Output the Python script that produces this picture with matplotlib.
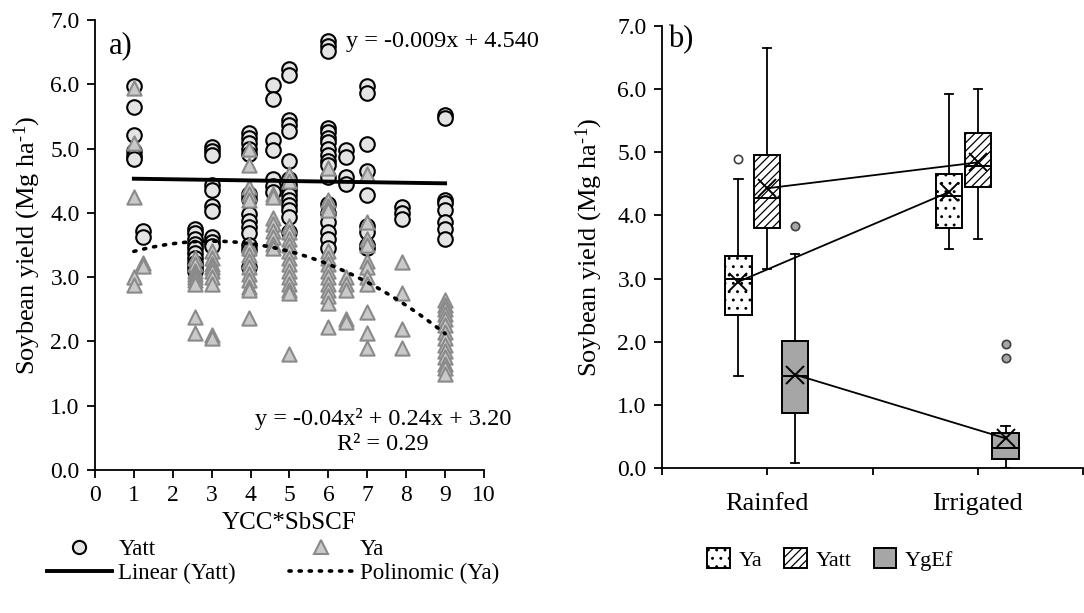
import numpy as np
import matplotlib
matplotlib.use("Agg")
import matplotlib.pyplot as plt
from matplotlib.patches import Patch
from matplotlib.lines import Line2D

plt.rcParams['font.family'] = ['Liberation Serif', 'DejaVu Serif']
plt.rcParams['mathtext.fontset'] = 'custom'
plt.rcParams['mathtext.rm'] = 'Liberation Serif'
plt.rcParams['mathtext.it'] = 'Liberation Serif:italic'
plt.rcParams['hatch.linewidth'] = 0.9

# --- a) scatter data: x columns (YCC*SbSCF) and yields read per column
col_x = [1.0, 1.24, 2.58, 3.0, 3.96, 4.58, 5.0, 6.0, 6.45, 7.0, 7.9, 9.0]

yatt_cols = [
    [5.97, 5.64, 5.21, 4.96, 4.89, 4.84],
    [3.72, 3.62],
    [3.75, 3.68, 3.6, 3.52, 3.45, 3.38, 3.3, 3.22, 3.15, 3.1],
    [5.03, 4.96, 4.9, 4.43, 4.36, 4.1, 4.03, 3.62, 3.55, 3.48],
    [5.24, 5.16, 5.08, 5.0, 4.92, 4.3, 4.22, 3.98, 3.88, 3.78, 3.68, 3.5, 3.42, 3.15],
    [5.99, 5.77, 5.14, 4.97, 4.52, 4.42, 4.32],
    [6.24, 6.14, 5.45, 5.37, 5.28, 4.8, 4.52, 4.44, 4.36, 4.28, 4.2, 4.12, 4.05, 3.93, 3.7],
    [6.67, 6.6, 6.52, 5.32, 5.25, 5.17, 5.1, 5.0, 4.9, 4.8, 4.75, 4.55, 4.14, 4.0,
     3.85, 3.7, 3.6, 3.45],
    [4.97, 4.87, 4.55, 4.45],
    [5.97, 5.87, 5.07, 4.65, 4.27, 3.8, 3.7, 3.5, 3.45],
    [4.09, 4.0, 3.9],
    [5.52, 5.47, 4.2, 4.15, 4.05, 3.85, 3.75, 3.6],
]

ya_cols = [
    [5.94, 5.09, 4.24, 3.0, 2.88],
    [3.22, 3.17],
    [3.3, 3.2, 3.1, 3.05, 3.0, 2.95, 2.9, 2.38, 2.13],
    [3.4, 3.3, 3.2, 3.15, 3.1, 3.0, 2.9, 2.1, 2.05],
    [5.0, 4.75, 4.4, 4.3, 4.2, 3.5, 3.45, 3.35, 3.25, 3.15, 3.05, 2.95, 2.85, 2.8, 2.37],
    [4.3, 4.25, 3.92, 3.82, 3.72, 3.62, 3.52, 3.45],
    [4.6, 4.5, 3.8, 3.7, 3.6, 3.5, 3.4, 3.3, 3.2, 3.1, 3.0, 2.9, 2.8, 2.75, 1.8],
    [4.7, 4.2, 4.1, 4.05, 3.4, 3.3, 3.2, 3.1, 3.0, 2.9, 2.8, 2.7, 2.6, 2.22],
    [3.0, 2.9, 2.8, 2.35, 2.3],
    [4.6, 3.85, 3.6, 3.5, 3.25, 3.15, 3.0, 2.9, 2.45, 2.13, 1.9],
    [3.24, 2.75, 2.2, 1.9],
    [2.65, 2.57, 2.5, 2.42, 2.35, 2.25, 2.15, 2.05, 1.95, 1.85, 1.75, 1.65, 1.58, 1.5],
]

# trend lines given on the chart
lin_coef = [-0.009, 4.540]
poly_coef = [-0.04, 0.24, 3.20]

# --- b) box plot summaries (Rainfed, Irrigated)
systems = ['Rainfed', 'Irrigated']
series = ['Ya', 'Yatt', 'YgEf']
whislo = {'Ya': [1.46, 3.47], 'Yatt': [3.15, 3.63], 'YgEf': [0.08, 0.0]}
q1 = {'Ya': [2.43, 3.80], 'Yatt': [3.80, 4.45], 'YgEf': [0.87, 0.14]}
med = {'Ya': [3.00, 4.31], 'Yatt': [4.27, 4.79], 'YgEf': [1.46, 0.32]}
q3 = {'Ya': [3.36, 4.66], 'Yatt': [4.96, 5.31], 'YgEf': [2.01, 0.56]}
whishi = {'Ya': [4.57, 5.92], 'Yatt': [6.65, 6.01], 'YgEf': [3.39, 0.67]}
means = {'Ya': [2.95, 4.37], 'Yatt': [4.43, 4.84], 'YgEf': [1.48, 0.47]}
fliers = {'Ya': [[4.90], []], 'Yatt': [[], []], 'YgEf': [[3.84], [1.96, 1.74]]}

ylab = r'Soybean yield (Mg ha$^{\text{-1}}$)'

fig = plt.figure(figsize=(10.84, 6.13), dpi=100)

# ---------------- panel a
ax1 = fig.add_axes([0.0876, 0.2333, 0.3589, 0.7341])
for x, ys in zip(col_x, yatt_cols):
    ax1.scatter([x] * len(ys), ys, s=110, marker='o', facecolor='#e4e4e4',
                edgecolor='black', linewidths=1.5, zorder=3)
for x, ys in zip(col_x, ya_cols):
    ax1.scatter([x] * len(ys), ys, s=105, marker='^', facecolor='#c9c9c9',
                edgecolor='#8a8a8a', linewidths=1.5, zorder=4)

xl = np.linspace(1, 9, 50)
ax1.plot(xl, np.polyval(lin_coef, xl), color='black', lw=2.8, zorder=5)
ax1.plot(xl, np.polyval(poly_coef, xl), color='black', lw=2.6, ls=(0, (0.6, 2.2)),
         dash_capstyle='round', zorder=5)

ax1.set_xlim(0, 10)
ax1.set_ylim(0, 7)
ax1.set_xticks(range(0, 11))
ax1.set_yticks(range(0, 8))
ax1.set_yticklabels([f'{v:.1f}' for v in range(0, 8)])
ax1.spines[['top', 'right']].set_visible(False)
for s in ['left', 'bottom']:
    ax1.spines[s].set_linewidth(1.3)
ax1.tick_params(labelsize=17, width=1.3, length=6, pad=5)
ax1.set_xlabel('YCC*SbSCF', fontsize=18, labelpad=4)
ax1.set_ylabel(ylab, fontsize=19, labelpad=5)

ax1.text(0.35, 6.6, 'a)', fontsize=22, va='center')
ax1.text(6.45, 6.66, 'y = -0.009x + 4.540', fontsize=17.5, va='center', clip_on=False)
ax1.text(7.4, 0.8, 'y = -0.04x² + 0.24x + 3.20', fontsize=17.5, ha='center', va='center',
         clip_on=False)
ax1.text(7.4, 0.4, 'R² = 0.29', fontsize=17.5, ha='center', va='center')

leg_a = [
    Line2D([], [], ls='none', marker='o', ms=9.5, mfc='#e4e4e4', mec='black', mew=1.5),
    Line2D([], [], color='black', lw=2.8),
    Line2D([], [], ls='none', marker='^', ms=9.5, mfc='#c9c9c9', mec='#8a8a8a', mew=1.5),
    Line2D([], [], color='black', lw=2.6, ls=(0, (0.6, 2.2)), dash_capstyle='round'),
]
fig.legend(leg_a, ['Yatt', 'Linear (Yatt)', 'Ya', 'Polinomic (Ya)'], ncol=2,
           loc='center', bbox_to_anchor=(0.252, 0.084), frameon=False, fontsize=16.5,
           handlelength=2.8, labelspacing=0.15, columnspacing=2.3, handletextpad=0.3)

# ---------------- panel b
ax2 = fig.add_axes([0.6107, 0.2365, 0.3884, 0.7211])
pos = np.array([1, 2])
offsets = {'Ya': -0.137, 'Yatt': 0.0, 'YgEf': 0.132}
styles = {
    'Ya': dict(facecolor='white', hatch='..'),
    'Yatt': dict(facecolor='white', hatch='////'),
    'YgEf': dict(facecolor='#a6a6a6', hatch=None),
}
flier_fc = {'Ya': 'white', 'Yatt': 'white', 'YgEf': '#a6a6a6'}

for name in series:
    stats = []
    for i in range(2):
        stats.append(dict(med=med[name][i], q1=q1[name][i], q3=q3[name][i],
                          whislo=whislo[name][i], whishi=whishi[name][i],
                          mean=means[name][i], fliers=fliers[name][i]))
    p = pos + offsets[name]
    ax2.bxp(stats, positions=p, widths=0.125, capwidths=0.04, patch_artist=True,
            showmeans=True, manage_ticks=False,
            boxprops=dict(edgecolor='black', linewidth=1.4, **styles[name]),
            medianprops=dict(color='black', linewidth=1.4),
            whiskerprops=dict(color='black', linewidth=1.3),
            capprops=dict(color='black', linewidth=1.3),
            meanprops=dict(marker='x', markersize=13, markeredgecolor='black',
                           markeredgewidth=1.4),
            flierprops=dict(marker='o', markersize=6, markerfacecolor=flier_fc[name],
                            markeredgecolor='#404040', markeredgewidth=1.2))
    ax2.plot(p, means[name], color='black', lw=1.3, zorder=4)

ax2.set_xlim(0.5, 2.5)
ax2.set_ylim(0, 7)
ax2.set_xticks([1, 2])
ax2.set_xticklabels(systems)
ax2.set_xticks([0.5, 1.5, 2.5], minor=True)
ax2.set_yticks(range(0, 8))
ax2.set_yticklabels([f'{v:.1f}' for v in range(0, 8)])
ax2.spines[['top', 'right']].set_visible(False)
for s in ['left', 'bottom']:
    ax2.spines[s].set_linewidth(1.3)
ax2.tick_params(axis='y', labelsize=17, width=1.3, length=6, pad=5)
ax2.tick_params(axis='x', which='both', labelsize=19, width=1.3, length=5, pad=13)
ax2.set_ylabel(ylab, fontsize=19, labelpad=9)
ax2.text(0.53, 6.78, 'b)', fontsize=22, va='center')

leg_b = [Patch(facecolor='white', edgecolor='black', hatch='..', lw=1.4),
         Patch(facecolor='white', edgecolor='black', hatch='////', lw=1.4),
         Patch(facecolor='#a6a6a6', edgecolor='black', lw=1.4)]
fig.legend(leg_b, series, ncol=3, loc='center', bbox_to_anchor=(0.766, 0.087),
           frameon=False, fontsize=16, handlelength=1.0, handleheight=1.0,
           columnspacing=1.0, handletextpad=0.4)

fig.savefig('out.png', dpi=100)
